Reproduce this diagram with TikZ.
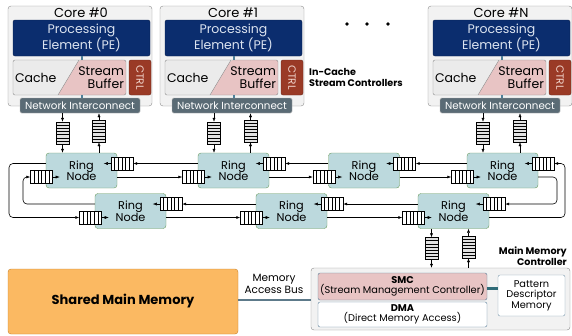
\documentclass[tikz,border=0pt]{standalone}
\usepackage{fontspec}
\setmainfont{Poppins}
\usetikzlibrary{arrows.meta,calc}

\definecolor{coregray}{HTML}{F2F2F2}
\definecolor{coreline}{HTML}{8C8C8C}
\definecolor{penavy}{HTML}{0B2D6E}
\definecolor{petext}{HTML}{DCE4F0}
\definecolor{cachegray}{HTML}{EBEBEB}
\definecolor{sbpink}{HTML}{E8C4C4}
\definecolor{ctrlred}{HTML}{9A3A26}
\definecolor{ctrltext}{HTML}{F2D7CF}
\definecolor{nigray}{HTML}{5A6B75}
\definecolor{linkblue}{HTML}{4F7F99}
\definecolor{ringfill}{HTML}{BCD9DD}
\definecolor{ringline}{HTML}{6B9B5E}
\definecolor{fifogray}{HTML}{E2E2E2}
\definecolor{smcline}{HTML}{5A7F99}
\definecolor{pdmline}{HTML}{2F6B78}
\definecolor{memorange}{HTML}{FBB962}
\definecolor{memline}{HTML}{C8812A}
\definecolor{busgray}{HTML}{5D7A8A}

\begin{document}
\begin{tikzpicture}[x=1pt, y=-1pt, >={Latex[length=4pt, width=3pt]},
	corebox/.style={draw=coreline, fill=coregray, rounded corners=3pt, minimum width=144pt, minimum height=100pt, inner sep=0pt},
	coretitle/.style={font=\fontsize{13}{13}\selectfont, inner sep=0pt},
	pebox/.style={fill=penavy, draw=penavy!70!black, rounded corners=2pt, minimum width=137pt, minimum height=36pt, inner sep=0pt, text=petext, align=center, font=\fontsize{12.5}{15.5}\selectfont},
	splitbox/.style={draw=coreline, fill=cachegray, rounded corners=2pt, minimum width=113pt, minimum height=35pt, inner sep=0pt,
		path picture={\fill[sbpink] ([xshift=66pt]path picture bounding box.north west) -- (path picture bounding box.north east) -- (path picture bounding box.south east) -- ([xshift=45pt]path picture bounding box.south west) -- cycle;
			\draw[coreline] ([xshift=66pt]path picture bounding box.north west) -- ([xshift=45pt]path picture bounding box.south west);}},
	celltext/.style={inner sep=0pt, font=\fontsize{12.5}{13.5}\selectfont},
	ctrlbox/.style={fill=ctrlred, draw=ctrlred!70!black, rounded corners=2pt, minimum width=22pt, minimum height=35pt, inner sep=0pt},
	ctrltxt/.style={text=ctrltext, rotate=-90, inner sep=0pt, font=\fontsize{10.5}{10.5}\selectfont},
	nibox/.style={fill=nigray, draw=gray!60, rounded corners=1.5pt, minimum width=120pt, minimum height=15pt, inner sep=0pt, text=white, font=\fontsize{10.3}{10}\selectfont},
	link/.style={draw=linkblue, line width=1.5pt},
	ringnode/.style={draw=ringline, fill=ringfill, rounded corners=3pt, minimum width=71pt, minimum height=35pt, inner sep=0pt, align=center, font=\fontsize{11.3}{11.5}\selectfont},
	fifoh/.style={draw, fill=white, minimum width=22pt, minimum height=13pt, inner sep=0pt,
		path picture={\foreach \k in {1,...,5} \draw ($(path picture bounding box.south west)!\k/6!(path picture bounding box.south east)$) -- ($(path picture bounding box.north west)!\k/6!(path picture bounding box.north east)$);}},
	fifov/.style={draw, fill=fifogray, minimum width=13pt, minimum height=22pt, inner sep=0pt,
		path picture={\foreach \k in {1,...,6} \draw ($(path picture bounding box.south west)!\k/7!(path picture bounding box.north west)$) -- ($(path picture bounding box.south east)!\k/7!(path picture bounding box.north east)$);}},
	ring/.style={->, line width=0.6pt},
	boldlabel/.style={inner sep=0pt, font=\fontsize{9.6}{11}\selectfont\bfseries},
	mmcbox/.style={draw=coreline, fill=coregray, rounded corners=3pt, minimum width=259pt, minimum height=62pt, inner sep=0pt},
	subbox/.style={draw=smcline, rounded corners=2pt, minimum width=169pt, inner sep=0pt, align=center, font=\fontsize{9.8}{10.5}\selectfont}]

	\useasboundingbox (0,0) rectangle (572,335);

	\node (core0) [corebox] at (80,56) {};
	\node (title0) [coretitle] at (81,13) {Core \#0};
	\node (pe0) [pebox] at (81.5,38) {Processing\\Element (PE)};
	\node (cb0) [splitbox] at (69.5,77.5) {};
	\node (cache0) [celltext, anchor=west] at ([xshift=2pt]cb0.west) {Cache};
	\node (sb0) [celltext, anchor=east, align=right] at ([xshift=-2pt]cb0.east) {Stream\\Buffer};
	\node (ctrl0) [ctrlbox] at (140,77.5) {};
	\node (ctrltxt0) [ctrltxt] at (ctrl0) {CTRL};
	\node (ni0) [nibox] at (80,105.5) {Network Interconnect};
	\draw[link] (pe0.south -| 82,0) -- (cb0.north -| 82,0);
	\draw[link] (cb0.south -| 82,0) -- (ni0.north -| 82,0);

	\node (core1) [corebox] at (232,56) {};
	\node (title1) [coretitle] at (233,13) {Core \#1};
	\node (pe1) [pebox] at (233.5,38) {Processing\\Element (PE)};
	\node (cb1) [splitbox] at (221.5,77.5) {};
	\node (cache1) [celltext, anchor=west] at ([xshift=2pt]cb1.west) {Cache};
	\node (sb1) [celltext, anchor=east, align=right] at ([xshift=-2pt]cb1.east) {Stream\\Buffer};
	\node (ctrl1) [ctrlbox] at (292,77.5) {};
	\node (ctrltxt1) [ctrltxt] at (ctrl1) {CTRL};
	\node (ni1) [nibox] at (232,105.5) {Network Interconnect};
	\draw[link] (pe1.south -| 234,0) -- (cb1.north -| 234,0);
	\draw[link] (cb1.south -| 234,0) -- (ni1.north -| 234,0);

	\node (coreN) [corebox] at (500,56) {};
	\node (titleN) [coretitle] at (501,13) {Core \#N};
	\node (peN) [pebox] at (501.5,38) {Processing\\Element (PE)};
	\node (cbN) [splitbox] at (489.5,77.5) {};
	\node (cacheN) [celltext, anchor=west] at ([xshift=2pt]cbN.west) {Cache};
	\node (sbN) [celltext, anchor=east, align=right] at ([xshift=-2pt]cbN.east) {Stream\\Buffer};
	\node (ctrlN) [ctrlbox] at (560,77.5) {};
	\node (ctrltxtN) [ctrltxt] at (ctrlN) {CTRL};
	\node (niN) [nibox] at (500,105.5) {Network Interconnect};
	\draw[link] (peN.south -| 502,0) -- (cbN.north -| 502,0);
	\draw[link] (cbN.south -| 502,0) -- (niN.north -| 502,0);

	\fill (347,24) circle (1.8pt) (367,24) circle (1.8pt) (388,24) circle (1.8pt);
	\node (isc) [boldlabel, anchor=west, align=left] at (309,77.5) {In-Cache\\Stream Controllers};

	\node (rn1) [ringnode] at (81.5,170.5) {Ring\\Node};
	\node (rn2) [ringnode] at (233.5,170.5) {Ring\\Node};
	\node (rn3) [ringnode] at (364,170.5) {Ring\\Node};
	\node (rn4) [ringnode] at (502.5,170.5) {Ring\\Node};
	\node (rn5) [ringnode] at (130.5,211) {Ring\\Node};
	\node (rn6) [ringnode] at (291.5,211) {Ring\\Node};
	\node (rn7) [ringnode] at (453.5,211) {Ring\\Node};

	\node (q1a) [fifoh] at (122,163.5) {};
	\node (q2a) [fifoh] at (274,163.5) {};
	\node (q3a) [fifoh] at (404.5,163.5) {};
	\node (q4a) [fifoh] at (543,163.5) {};
	\node (q1b) [fifoh] at (41.5,177) {};
	\node (q2b) [fifoh] at (193.5,177) {};
	\node (q3b) [fifoh] at (324,177) {};
	\node (q4b) [fifoh] at (462.5,177) {};
	\node (q5a) [fifoh] at (171,204) {};
	\node (q6a) [fifoh] at (332,204) {};
	\node (q7a) [fifoh] at (494,204) {};
	\node (q5b) [fifoh] at (90.5,217.5) {};
	\node (q6b) [fifoh] at (251.5,217.5) {};
	\node (q7b) [fifoh] at (413.5,217.5) {};

	\draw[->] (q1a.west) -- ++(-7,0);
	\draw[->] (q2a.west) -- ++(-7,0);
	\draw[->] (q3a.west) -- ++(-7,0);
	\draw[->] (q4a.west) -- ++(-7,0);
	\draw[->] (q5a.west) -- ++(-7,0);
	\draw[->] (q6a.west) -- ++(-7,0);
	\draw[->] (q7a.west) -- ++(-7,0);
	\draw[->] (q1b.east) -- ++(7,0);
	\draw[->] (q2b.east) -- ++(7,0);
	\draw[->] (q3b.east) -- ++(7,0);
	\draw[->] (q4b.east) -- ++(7,0);
	\draw[->] (q5b.east) -- ++(7,0);
	\draw[->] (q6b.east) -- ++(7,0);
	\draw[->] (q7b.east) -- ++(7,0);

	\coordinate (outerL) at (9,190);
	\coordinate (innerL) at (23,190);
	\coordinate (outerR) at (565,190);
	\coordinate (innerR) at (557,190);

	\draw[ring] (q2a -| rn2.west) -- (q1a.east);
	\draw[ring] (q3a -| rn3.west) -- (q2a.east);
	\draw[ring] (q4a -| rn4.west) -- (q3a.east);
	\draw[ring, rounded corners=4pt] (q1a -| rn1.west) -- (q1a -| outerL) -- (q5b -| outerL) -- (q5b.west);
	\draw[ring] (q6b -| rn5.east) -- (q6b.west);
	\draw[ring] (q7b -| rn6.east) -- (q7b.west);
	\draw[ring, rounded corners=4pt] (q7b -| rn7.east) -- (q7b -| outerR) -- (q4a -| outerR) -- (q4a.east);

	\draw[ring] (q1b -| rn1.east) -- (q2b.west);
	\draw[ring] (q2b -| rn2.east) -- (q3b.west);
	\draw[ring] (q3b -| rn3.east) -- (q4b.west);
	\draw[ring, rounded corners=4pt] (q4b -| rn4.east) -- (q4b -| innerR) -- (q7a -| innerR) -- (q7a.east);
	\draw[ring] (q7a -| rn7.west) -- (q6a.east);
	\draw[ring] (q6a -| rn6.west) -- (q5a.east);
	\draw[ring, rounded corners=4pt] (q5a -| rn5.west) -- (q5a -| innerL) -- (q1b -| innerL) -- (q1b.west);

	\node (cd0) [fifov] at (62.5,133) {};
	\node (cu0) [fifov] at (99,131) {};
	\node (cd1) [fifov] at (214,133) {};
	\node (cu1) [fifov] at (250.5,131) {};
	\node (cdN) [fifov] at (483,133) {};
	\node (cuN) [fifov] at (520,131) {};
	\draw[->] (cd0 |- ni0.south) -- (cd0.north);
	\draw[->] (cd0.south) -- (cd0 |- rn1.north);
	\draw[->] (cu0 |- rn1.north) -- (cu0.south);
	\draw[->] (cu0.north) -- (cu0 |- ni0.south);
	\draw[->] (cd1 |- ni1.south) -- (cd1.north);
	\draw[->] (cd1.south) -- (cd1 |- rn2.north);
	\draw[->] (cu1 |- rn2.north) -- (cu1.south);
	\draw[->] (cu1.north) -- (cu1 |- ni1.south);
	\draw[->] (cdN |- niN.south) -- (cdN.north);
	\draw[->] (cdN.south) -- (cdN |- rn4.north);
	\draw[->] (cuN |- rn4.north) -- (cuN.south);
	\draw[->] (cuN.north) -- (cuN |- niN.south);

	\node (mmc) [mmcbox] at (440.5,299) {};
	\node (mmclabel) [boldlabel, anchor=east, align=right] at (567,256.5) {Main Memory\\Controller};
	\node (md) [fifov] at (431.5,248.5) {};
	\node (mu) [fifov] at (468.5,247) {};
	\draw[->] (md |- rn7.south) -- (md.north);
	\draw[->] (md.south) -- (md |- mmc.north);
	\draw[->] (mu |- mmc.north) -- (mu.south);
	\draw[->] (mu.north) -- (mu |- rn7.south);

	\node (smc) [subbox, fill=sbpink, minimum height=27pt] at (402.5,286.5) {\textbf{SMC}\\(Stream Management Controller)};
	\node (dma) [subbox, fill=white, minimum height=25pt] at (402.5,314.5) {\textbf{DMA}\\(Direct Memory Access)};
	\node (pdm) [subbox, draw=smcline!80, fill=white, minimum width=67pt, minimum height=41pt] at (531.5,295.5) {Pattern\\Descriptor\\Memory};
	\draw[pdmline, line width=3pt] (smc.east |- 0,288) -- (pdm.west |- 0,288);

	\node (smm) [draw=memline, fill=memorange, rounded corners=3pt, minimum width=230pt, minimum height=65pt, font=\fontsize{13}{14}\selectfont\bfseries] at (123,301.5) {Shared Main Memory};
	\draw[busgray, line width=2.5pt] (smm.east |- 0,300) -- (mmc.west |- 0,300);
	\node (buslabel) [inner sep=0pt, align=center, font=\fontsize{10.5}{11.5}\selectfont] at (274,284) {Memory\\Access Bus};
\end{tikzpicture}
\end{document}
